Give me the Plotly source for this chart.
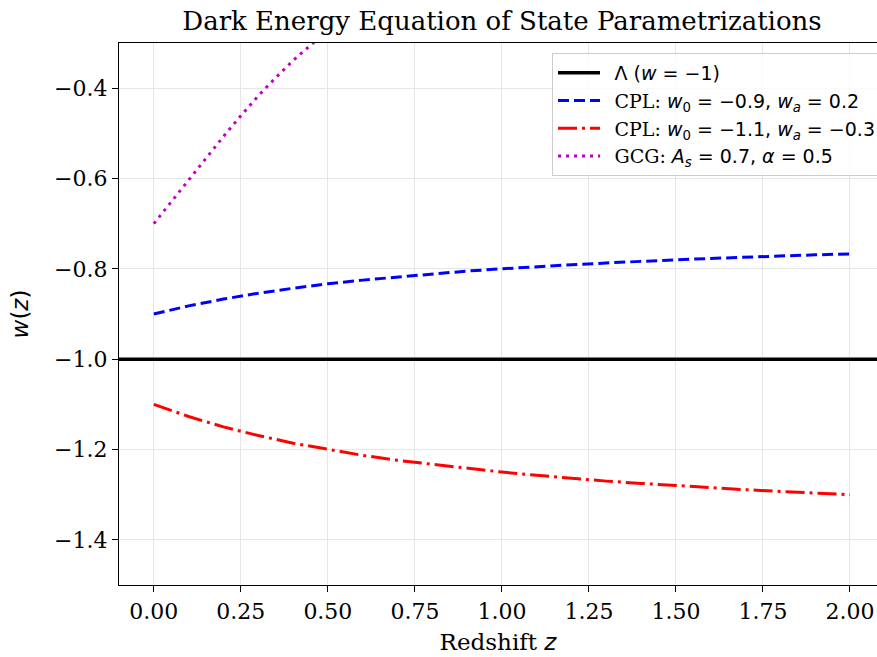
import plotly.graph_objects as go

# ---- data ----
Z = [0.0, 0.1, 0.2, 0.3, 0.4, 0.5, 0.6, 0.7, 0.8, 0.9, 1.0,
     1.1, 1.2, 1.3, 1.4, 1.5, 1.6, 1.7, 1.8, 1.9, 2.0]
CPL1_W = [-0.900, -0.882, -0.867, -0.854, -0.843, -0.833, -0.825, -0.818, -0.811, -0.805, -0.800,
          -0.795, -0.791, -0.787, -0.783, -0.780, -0.777, -0.774, -0.771, -0.769, -0.767]
CPL2_W = [-1.100, -1.127, -1.150, -1.169, -1.186, -1.200, -1.213, -1.224, -1.233, -1.242, -1.250,
          -1.257, -1.264, -1.270, -1.275, -1.280, -1.285, -1.289, -1.293, -1.297, -1.300]
GCG_Z = [0.0, 0.05, 0.1, 0.15, 0.2, 0.25, 0.3, 0.35, 0.4, 0.45, 0.5, 0.55]
GCG_W = [-0.700, -0.652, -0.603, -0.554, -0.507, -0.461, -0.417, -0.377, -0.339, -0.305, -0.273, -0.245]
LAMBDA_Z = [-0.1, 2.1]
LAMBDA_W = [-1.0, -1.0]

X_TICKS = [0.0, 0.25, 0.5, 0.75, 1.0, 1.25, 1.5, 1.75, 2.0]
X_TICK_LABELS = ["0.00", "0.25", "0.50", "0.75", "1.00", "1.25", "1.50", "1.75", "2.00"]
Y_TICKS = [-1.4, -1.2, -1.0, -0.8, -0.6, -0.4]
Y_TICK_LABELS = ["\u22121.4", "\u22121.2", "\u22121.0", "\u22120.8", "\u22120.6", "\u22120.4"]

SERIF = "DejaVu Serif"
MATH = "DejaVu Sans"
PAD = "\u2002"

def m(s):
    return '<span style="font-family:%s"><i>%s</i></span>' % (MATH, s)

def mt(s):
    return '<span style="font-family:%s">%s</span>' % (MATH, s)

fig = go.Figure()
fig.add_trace(go.Scatter(
    x=LAMBDA_Z, y=LAMBDA_W, mode="lines",
    line=dict(color="black", width=3.5),
    name=PAD + mt("\u039b (") + m("w") + mt(" = \u22121)"),
))
fig.add_trace(go.Scatter(
    x=Z, y=CPL1_W, mode="lines",
    line=dict(color="#0000ff", width=3, dash="11px,5px"),
    name=PAD + "CPL: " + m("w") + mt("<sub>0</sub> = \u22120.9, ") + m("w") + m("<sub>a</sub>") + mt(" = 0.2"),
))
fig.add_trace(go.Scatter(
    x=Z, y=CPL2_W, mode="lines",
    line=dict(color="#ff0000", width=3, dash="19px,5px,3px,5px"),
    name=PAD + "CPL: " + m("w") + mt("<sub>0</sub> = \u22121.1, ") + m("w") + m("<sub>a</sub>") + mt(" = \u22120.3"),
))
fig.add_trace(go.Scatter(
    x=GCG_Z, y=GCG_W, mode="lines",
    line=dict(color="#bf00bf", width=3, dash="3px,5px"),
    name=PAD + "GCG: " + m("A") + m("<sub>s</sub>") + mt(" = 0.7, ") + m("\u03b1") + mt(" = 0.5"),
))

fig.update_layout(
    width=877, height=657,
    margin=dict(l=119, r=0, t=43, b=72, autoexpand=False),
    paper_bgcolor="white", plot_bgcolor="white",
    font=dict(family=SERIF, color="black", size=22),
    title=dict(text="Dark Energy Equation of State Parametrizations",
               x=502 / 877, xanchor="center", y=1 - 21 / 657, yanchor="middle",
               font=dict(family=SERIF, size=26)),
    showlegend=True,
    legend=dict(x=(552 - 119) / 758, y=1 - 10 / 542, xanchor="left", yanchor="top",
                bgcolor="rgba(255,255,255,0.8)", bordercolor="#cccccc", borderwidth=1,
                itemwidth=42,
                font=dict(family=SERIF, size=19)),
)
fig.update_xaxes(
    range=[-0.1, (877 - 154) / 348], tickvals=X_TICKS, ticktext=X_TICK_LABELS,
    showline=True, linecolor="black", linewidth=1.3, mirror=True,
    ticks="outside", ticklen=6, tickwidth=1.2, tickcolor="black",
    showgrid=True, gridcolor="#e6e6e6", gridwidth=1, zeroline=False,
    tickfont=dict(size=22),
    title=dict(text="Redshift " + m("z"), font=dict(family=SERIF, size=23), standoff=11),
)
fig.update_yaxes(
    range=[-1.5, -0.3], tickvals=Y_TICKS, ticktext=Y_TICK_LABELS,
    showline=True, linecolor="black", linewidth=1.3, mirror=False,
    ticks="outside", ticklen=6, tickwidth=1.2, tickcolor="black",
    showgrid=True, gridcolor="#e6e6e6", gridwidth=1, zeroline=False,
    tickfont=dict(size=22),
    title=dict(text=m("w") + mt("(") + m("z") + mt(")"), font=dict(family=SERIF, size=23), standoff=18),
)

fig.write_html("out.html")
